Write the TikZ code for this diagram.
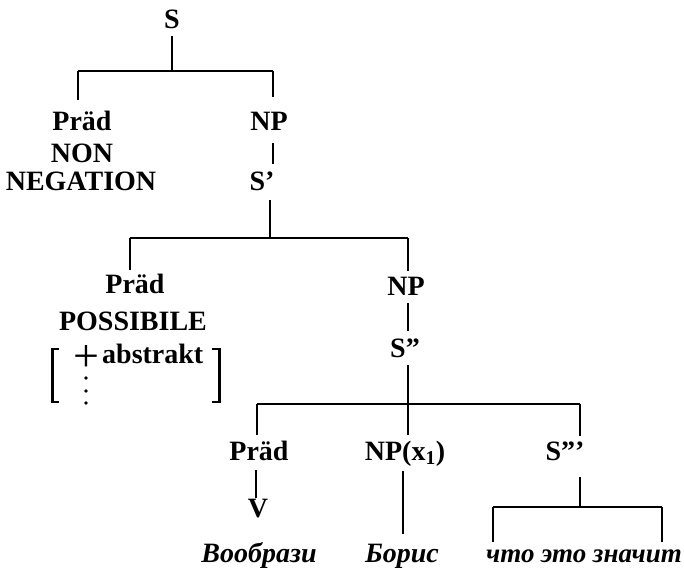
\documentclass[tikz,border=0pt]{standalone}
\usepackage{fontspec}
\setmainfont{Liberation Serif}
\usetikzlibrary{calc}
\begin{document}
\begin{tikzpicture}[x=1pt,y=-1pt,
  lbl/.style={font=\fontsize{28}{30}\selectfont\bfseries, inner sep=0pt, anchor=base},
  cyr/.style={font=\fontsize{28}{30}\selectfont\bfseries\itshape, inner sep=0pt, anchor=base},
  edge/.style={line width=1.3pt}]
\useasboundingbox (0,0) rectangle (684,568);
% labels
\node[lbl] (S) at (172,28) {S};
\node[lbl] (P1) at (82,130) {Präd};
\node[lbl] (NP1) at (269,130) {NP};
\node[lbl] (NON) at (82,162) {NON};
\node[lbl] (NEG) at (81,190) {NEGATION};
\node[lbl] (S1) at (262,190) {S'};
\node[lbl] (P2) at (135,293) {Präd};
\node[lbl] (POS) at (133,330) {POSSIBILE};
\node[lbl] (NP2) at (406,295) {NP};
\node[lbl] (S2) at (405,357) {S''};
\node[lbl] (P3) at (259,460) {Präd};
\node[lbl] (NP3) at (405,460) {NP(x\textsubscript{1})};
\node[lbl] (S3) at (565,460) {S'''};
\node[lbl] (V) at (258,517) {V};
\node[cyr] (w1) at (259,562) {Вообрази};
\node[cyr] (w2) at (402,562) {Борис};
\node[cyr, font=\fontsize{27}{30}\selectfont\bfseries\itshape] (w3) at (584,562) {что это значит};
% feature matrix
\node[lbl, anchor=base west] (abs) at (102,363) {abstrakt};
\node[font=\fontsize{46}{48}\selectfont, inner sep=0pt] (plus) at (86,358) {+};
\foreach \yy in {378,391,403} \fill (86,\yy) circle (1.8);
\draw[line width=3.5pt] (52.5,348) -- (52.5,403);
\draw[line width=1.5pt] (51,348.8) -- (59,348.8) (51,402.2) -- (59,402.2);
\draw[line width=3.5pt] (219.5,348) -- (219.5,403);
\draw[line width=1.5pt] (221,348.8) -- (212,348.8) (221,402.2) -- (212,402.2);
% bar coordinates
\coordinate (b1) at (172,71); \coordinate (b1l) at (78,71); \coordinate (b1r) at (273,71);
\coordinate (b2) at (270,238); \coordinate (b2l) at (130,238); \coordinate (b2r) at (408,238);
\coordinate (b3) at (408,404); \coordinate (b3l) at (257,404); \coordinate (b3r) at (580,404);
\coordinate (b4) at (580,507); \coordinate (b4l) at (493,507); \coordinate (b4r) at (662,507);
\coordinate (xv) at (256,0); \coordinate (xw) at (403,0);
% level 1
\draw[edge] ($(S.south)+(0,8)$) -- (b1);
\draw[edge] (b1l) -- (b1r);
\draw[edge] (b1l) -- ($(b1l |- P1.north)+(0,-10)$);
\draw[edge] (b1r) -- ($(b1r |- NP1.north)+(0,-14)$);
\draw[edge] ($(b1r |- NP1.south)+(0,13)$) -- ($(b1r |- S1.north)+(0,-7)$);
% level 2
\draw[edge] ($(b2 |- S1.south)+(0,10)$) -- (b2);
\draw[edge] (b2l) -- (b2r);
\draw[edge] (b2l) -- ($(b2l |- P2.north)+(0,-3)$);
\draw[edge] (b2r) -- ($(b2r |- NP2.north)+(0,-5)$);
\draw[edge] ($(b2r |- NP2.south)+(0,8)$) -- ($(b2r |- S2.north)+(0,-7)$);
% level 3
\draw[edge] ($(b3 |- S2.south)+(0,8)$) -- (b3);
\draw[edge] (b3l) -- (b3r);
\draw[edge] (b3l) -- ($(b3l |- P3.north)+(0,-5)$);
\draw[edge] (b3) -- ($(b3 |- NP3.north)+(0,-5)$);
\draw[edge] (b3r) -- ($(b3r |- S3.north)+(0,-5)$);
\draw[edge] ($(xv |- P3.south)+(0,10)$) -- (xv |- V.north);
\draw[edge] ($(xw |- NP3.south)+(0,5)$) -- ($(xw |- w2.north)+(0,-9)$);
% level 4
\draw[edge] ($(b4 |- S3.south)+(0,17)$) -- (b4);
\draw[edge] (b4l) -- (b4r);
\draw[edge] (b4l) -- ($(b4l |- w3.north)+(0,-7)$);
\draw[edge] (b4r) -- ($(b4r |- w3.north)+(0,-7)$);
\end{tikzpicture}
\end{document}
